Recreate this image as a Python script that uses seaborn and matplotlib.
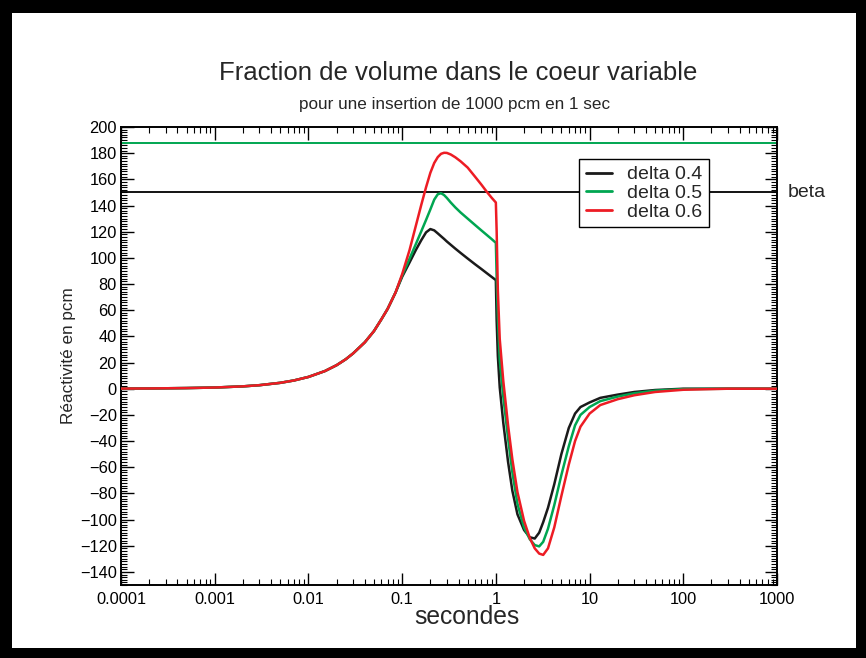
import numpy as np
import pandas as pd
import matplotlib
matplotlib.use("Agg")
import matplotlib.pyplot as plt
from matplotlib.patches import Rectangle
from matplotlib.ticker import MultipleLocator, LogLocator, FuncFormatter, NullFormatter
import seaborn as sns

# time grid (s)
seconds = [1e-4, 2e-4, 5e-4, 1e-3, 2e-3, 3e-3, 5e-3, 7e-3, 0.01, 0.015,
           0.02, 0.025, 0.03, 0.04, 0.05, 0.06, 0.07, 0.085,
           0.1, 0.12, 0.14, 0.16, 0.18, 0.2, 0.22, 0.24, 0.26, 0.28,
           0.3, 0.33, 0.37, 0.42, 0.5, 0.6, 0.7, 0.8, 0.9, 1.0,
           1.02, 1.05, 1.1, 1.2, 1.35, 1.5, 1.7, 2.0, 2.3, 2.6,
           2.9, 3.2, 3.6, 4.2, 5, 6, 7, 8, 10, 13,
           20, 30, 50, 100, 300, 1000]

# early rise, identical for the three cases (pcm)
rise_common = [0.1, 0.2, 0.5, 0.9, 1.8, 2.7, 4.5, 6.3, 9, 13.5,
               18, 22.5, 27, 35.5, 44, 53, 61, 73.5]

# reactivity (pcm) for each delta, from t = 0.1 s onwards
rho_04 = rise_common + [
    85.5, 96.5, 106, 113.5, 119.5, 122, 121, 118.7, 116.5, 114.5,
    112.5, 110, 107, 103.8, 99.5, 95.1, 91.5, 88.3, 85.5, 83,
    52, 25, 1, -26, -56, -78, -96, -108, -113.5, -114.5,
    -110, -102, -91, -73, -50, -30, -19, -14, -10.5, -7,
    -4.5, -2.5, -1, 0, 0, 0]
rho_05 = rise_common + [
    86.5, 99.4, 110.5, 120.3, 129, 137, 144.5, 148.6, 149.4, 148,
    145.8, 142.3, 138.5, 134.7, 130, 125.1, 121, 117.5, 114.4, 111.5,
    85, 55, 22, -6, -38, -64, -88, -106, -115, -119.5,
    -120.5, -117, -107, -89, -66, -44, -28, -20, -14, -9.5,
    -6, -3.5, -1.5, -0.3, 0, 0]
rho_06 = rise_common + [
    87.5, 106, 124.5, 140.5, 154, 165, 172.5, 177, 179.5, 180.3,
    180.2, 179, 176.8, 173.8, 169, 162, 156, 150.5, 146, 142.3,
    120, 75, 38, 6, -28, -54, -79, -101, -114, -122,
    -126, -127, -122, -106, -82, -58, -40, -29, -19, -12.5,
    -8, -5, -2.5, -0.8, 0, 0]

series_labels = ["delta 0.4", "delta 0.5", "delta 0.6"]
series_colors = ["#1a1a1a", "#00a651", "#ed1c24"]

beta_level = 150
upper_level = 188

x_ticks = [1e-4, 1e-3, 1e-2, 1e-1, 1, 10, 100, 1000]
y_ticks = list(range(-140, 201, 20))

df = pd.concat([
    pd.DataFrame({"t": seconds, "rho": vals, "serie": lab})
    for vals, lab in zip([rho_04, rho_05, rho_06], series_labels)
], ignore_index=True)

sns.set_theme(style="ticks")
plt.rcParams["font.family"] = ["Liberation Sans", "DejaVu Sans"]

W, H = 866, 658
fig = plt.figure(figsize=(W / 100, H / 100), dpi=100)
fig.patch.set_facecolor("black")
fig.add_artist(Rectangle((12 / W, 10 / H), (W - 22) / W, (H - 23) / H,
                         transform=fig.transFigure, facecolor="white",
                         edgecolor="none", zorder=-5))

ax = fig.add_axes([121 / W, 1 - 585 / H, 656 / W, 458 / H])
ax.set_facecolor("white")

ax.axhline(upper_level, color=series_colors[1], lw=1.4, zorder=2)
ax.axhline(beta_level, color="black", lw=1.3, zorder=2)

sns.lineplot(data=df, x="t", y="rho", hue="serie", palette=series_colors,
             hue_order=series_labels, estimator=None, sort=False,
             linewidth=1.8, ax=ax, zorder=3)

ax.set_xscale("log")
ax.set_xlim(1e-4, 1000)
ax.set_ylim(-150, 200)
ax.set_xticks(x_ticks)
ax.xaxis.set_major_formatter(FuncFormatter(lambda v, p: "%g" % v))
ax.xaxis.set_minor_locator(LogLocator(base=10, subs=np.arange(2, 10)))
ax.xaxis.set_minor_formatter(NullFormatter())
ax.set_yticks(y_ticks)
ax.yaxis.set_minor_locator(MultipleLocator(2))

ax.tick_params(which="both", direction="in", top=True, right=True,
               colors="black", labelsize=11.8)
ax.tick_params(which="major", length=9, width=1.0)
ax.tick_params(which="minor", length=4.5, width=0.8)
ax.tick_params(axis="x", pad=5)
ax.tick_params(axis="y", pad=3)
for sp in ax.spines.values():
    sp.set_linewidth(1.4)
    sp.set_color("black")

ax.set_xlabel("secondes", fontsize=17.7)
ax.xaxis.set_label_coords((467 - 121) / 656, -0.044)
ax.set_ylabel("Réactivité en pcm", fontsize=12.3)
ax.yaxis.set_label_coords(-0.068, 0.5)

ax.text(1.017, beta_level, "beta", transform=ax.get_yaxis_transform(),
        ha="left", va="center", fontsize=14)

fig.text(458.5 / W, 1 - 73 / H, "Fraction de volume dans le coeur variable",
         ha="center", va="center", fontsize=18.5)
fig.text(454.5 / W, 1 - 104 / H, "pour une insertion de 1000 pcm en 1 sec",
         ha="center", va="center", fontsize=12.3)

leg = ax.legend(loc="upper left", bbox_to_anchor=(579 / W, 1 - 159 / H),
                bbox_transform=fig.transFigure, borderaxespad=0,
                fontsize=14, handlelength=1.35, handletextpad=0.75,
                borderpad=0.35, labelspacing=0.05, fancybox=False,
                framealpha=1, edgecolor="black", title=None)
leg.get_frame().set_linewidth(1.0)
for line in leg.get_lines():
    line.set_linewidth(2.0)

fig.savefig("out.png", dpi=100, facecolor=fig.get_facecolor())
